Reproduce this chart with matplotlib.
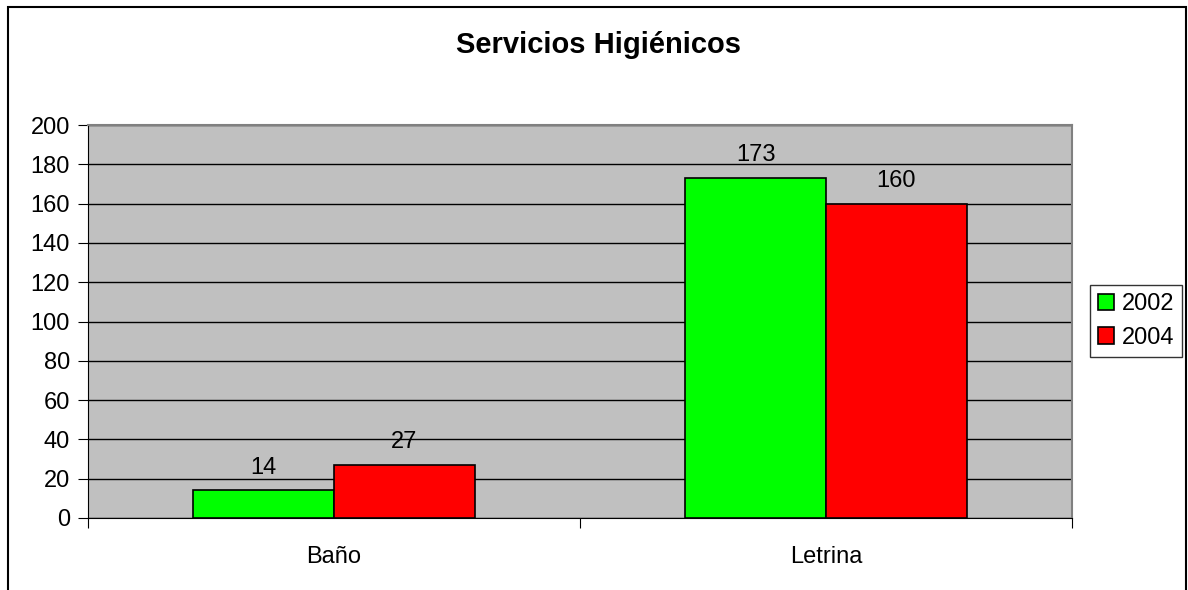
import numpy as np
import matplotlib.pyplot as plt
from matplotlib.patches import Rectangle

categorias = ["Baño", "Letrina"]
anios = ["2002", "2004"]
valores_2002 = [14, 173]
valores_2004 = [27, 160]
colores = ["#00FF00", "#FF0000"]

plt.rcParams['font.family'] = ['Liberation Sans', 'DejaVu Sans']

fig = plt.figure(figsize=(11.88, 5.90), dpi=100)
ax = fig.add_axes([88/1188, 1-518/590, (1072-88)/1188, (518-125)/590])

# marco exterior del grafico
fig.patches.append(Rectangle((8/1188, -0.1), (1186-8)/1188, 1.1-7/590,
                             transform=fig.transFigure, fill=False,
                             edgecolor='black', linewidth=1.5))

x = np.arange(len(categorias))
w = 1/3.5
b1 = ax.bar(x - w/2, valores_2002, w, color=colores[0], edgecolor='black', linewidth=1.2, label=anios[0], zorder=3)
b2 = ax.bar(x + w/2, valores_2004, w, color=colores[1], edgecolor='black', linewidth=1.2, label=anios[1], zorder=3)

for barras in (b1, b2):
    for r in barras:
        ax.text(r.get_x() + r.get_width()/2, r.get_height() + 6, str(int(r.get_height())),
                ha='center', va='bottom', fontsize=17)

ax.set_facecolor('#C0C0C0')
ax.set_xlim(-0.5, 1.5)
ax.set_ylim(0, 200)
ax.set_yticks(range(0, 201, 20))
ax.yaxis.grid(True, color='black', linewidth=1, zorder=0)
ax.set_axisbelow(True)

ax.set_xticks([-0.5, 0.5, 1.5])
ax.set_xticklabels([])
ax.set_xticks(x, minor=True)
ax.set_xticklabels(categorias, minor=True)
ax.tick_params(axis='x', which='minor', length=0, pad=20, labelsize=17)
ax.tick_params(axis='x', which='major', length=7, direction='out', color='black')
ax.tick_params(axis='y', length=7, labelsize=17, pad=6)

for s in ['top', 'right']:
    ax.spines[s].set_color('#808080')
    ax.spines[s].set_linewidth(1.5)
ax.spines['left'].set_color('black')
ax.spines['bottom'].set_color('black')

fig.text(598/1188, 1-45/590, "Servicios Higiénicos", ha='center', va='center',
         fontsize=21, fontweight='bold')

leg = fig.legend(loc='center', bbox_to_anchor=(1136/1188, 1-321/590), fontsize=17,
                 frameon=True, fancybox=False, edgecolor='black', handlelength=0.7,
                 handleheight=0.7, handletextpad=0.3, borderpad=0.35, labelspacing=0.5,
                 borderaxespad=0)
leg.get_frame().set_linewidth(1)

fig.savefig("out.png", dpi=100)
